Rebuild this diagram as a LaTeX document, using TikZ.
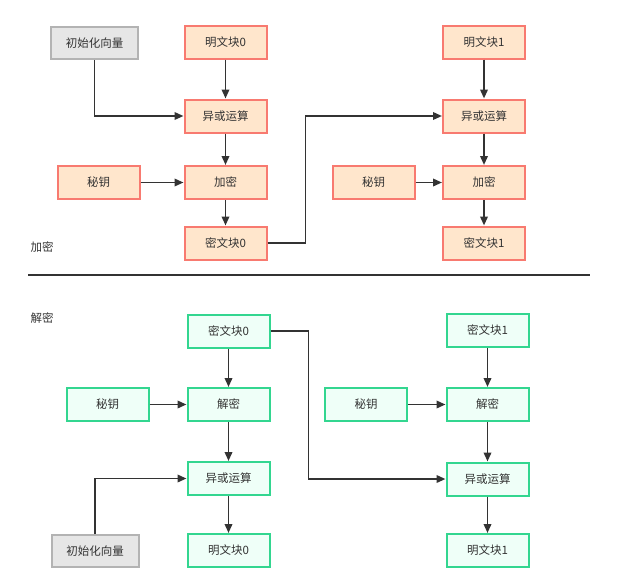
\documentclass[tikz,border=0pt]{standalone}
\usepackage{fontspec}
\setmainfont{Noto Sans CJK SC}
\usetikzlibrary{arrows.meta, positioning, calc}

\definecolor{encfill}{HTML}{FFE6CC}
\definecolor{encdraw}{HTML}{F87A70}
\definecolor{decfill}{HTML}{EFFFF8}
\definecolor{decdraw}{HTML}{33D690}
\definecolor{ivfill}{HTML}{E6E6E6}
\definecolor{ivdraw}{HTML}{B3B3B3}
\definecolor{linecol}{HTML}{333333}

\tikzset{
  box/.style={rectangle, line width=2pt, minimum width=82pt, minimum height=33pt,
    inner sep=0pt, text=linecol, font=\fontsize{11.5}{13}\selectfont},
  encbox/.style={box, draw=encdraw, fill=encfill},
  decbox/.style={box, draw=decdraw, fill=decfill},
  ivbox/.style={box, draw=ivdraw, fill=ivfill, minimum width=87pt, minimum height=32pt},
  flow/.style={draw=linecol, line width=1.9pt, -{Triangle[length=9pt, width=7.5pt]}},
  caption/.style={text=linecol, font=\fontsize{11.5}{13}\selectfont}
}

\begin{document}
\begin{tikzpicture}[x=1pt, y=-1pt]
				\useasboundingbox (0,0) rectangle (628,581);
				% encryption
				\node[ivbox] (iv1) at (94.5, 43) {初始化向量};
				\node[encbox] (p0) at (225.5, 42) {明文块0};
				\node[encbox] (x0) at (225.5, 116) {异或运算};
				\node[encbox] (k0) at (98.5, 182.5) {秘钥};
				\node[encbox] (e0) at (225.5, 182.5) {加密};
				\node[encbox] (c0) at (225.5, 243) {密文块0};
				\node[encbox] (p1) at (484, 42) {明文块1};
				\node[encbox] (x1) at (484, 116) {异或运算};
				\node[encbox] (k1) at (373.5, 182.5) {秘钥};
				\node[encbox] (e1) at (484, 182.5) {加密};
				\node[encbox] (c1) at (484, 243) {密文块1};
				\node[caption] (enclabel) at (42, 247) {加密};
				
				\draw[flow] (iv1.south) |- (x0.west);
				\draw[flow] (p0) -- (x0);
				\draw[flow] (x0) -- (e0);
				\draw[flow] (k0) -- (e0);
				\draw[flow] (e0) -- (c0);
				\draw[flow] (c0.east) -- ++(38,0) |- (x1.west);
				\draw[flow] (p1) -- (x1);
				\draw[flow] (x1) -- (e1);
				\draw[flow] (k1) -- (e1);
				\draw[flow] (e1) -- (c1);
				
				% separator
				\coordinate (sepl) at (28, 275);
				\coordinate (sepr) at (590, 275);
				\draw[linecol, line width=1.8pt] (sepl) -- (sepr);
				
				% decryption
				\node[caption] (declabel) at (42, 318) {解密};
				\node[decbox] (dc0) at (228.5, 331) {密文块0};
				\node[decbox] (dk0) at (107.5, 404.5) {秘钥};
				\node[decbox] (dd0) at (228.5, 404.5) {解密};
				\node[decbox] (dx0) at (228.5, 478.5) {异或运算};
				\node[decbox] (dp0) at (228.5, 550.5) {明文块0};
				\node[ivbox] (iv2) at (95, 551) {初始化向量};
				\node[decbox] (dc1) at (487.5, 330.5) {密文块1};
				\node[decbox] (dk1) at (366, 404.5) {秘钥};
				\node[decbox] (dd1) at (487.5, 404.5) {解密};
				\node[decbox] (dx1) at (487.5, 479) {异或运算};
				\node[decbox] (dp1) at (487.5, 550.5) {明文块1};
				
				\draw[flow] (dc0) -- (dd0);
				\draw[flow] (dk0) -- (dd0);
				\draw[flow] (dd0) -- (dx0);
				\draw[flow] (iv2.north) |- (dx0.west);
				\draw[flow] (dx0) -- (dp0);
				\draw[flow] (dc0.east) -- ++(38,0) |- (dx1.west);
				\draw[flow] (dc1) -- (dd1);
				\draw[flow] (dk1) -- (dd1);
				\draw[flow] (dd1) -- (dx1);
				\draw[flow] (dx1) -- (dp1);
\end{tikzpicture}
\end{document}
